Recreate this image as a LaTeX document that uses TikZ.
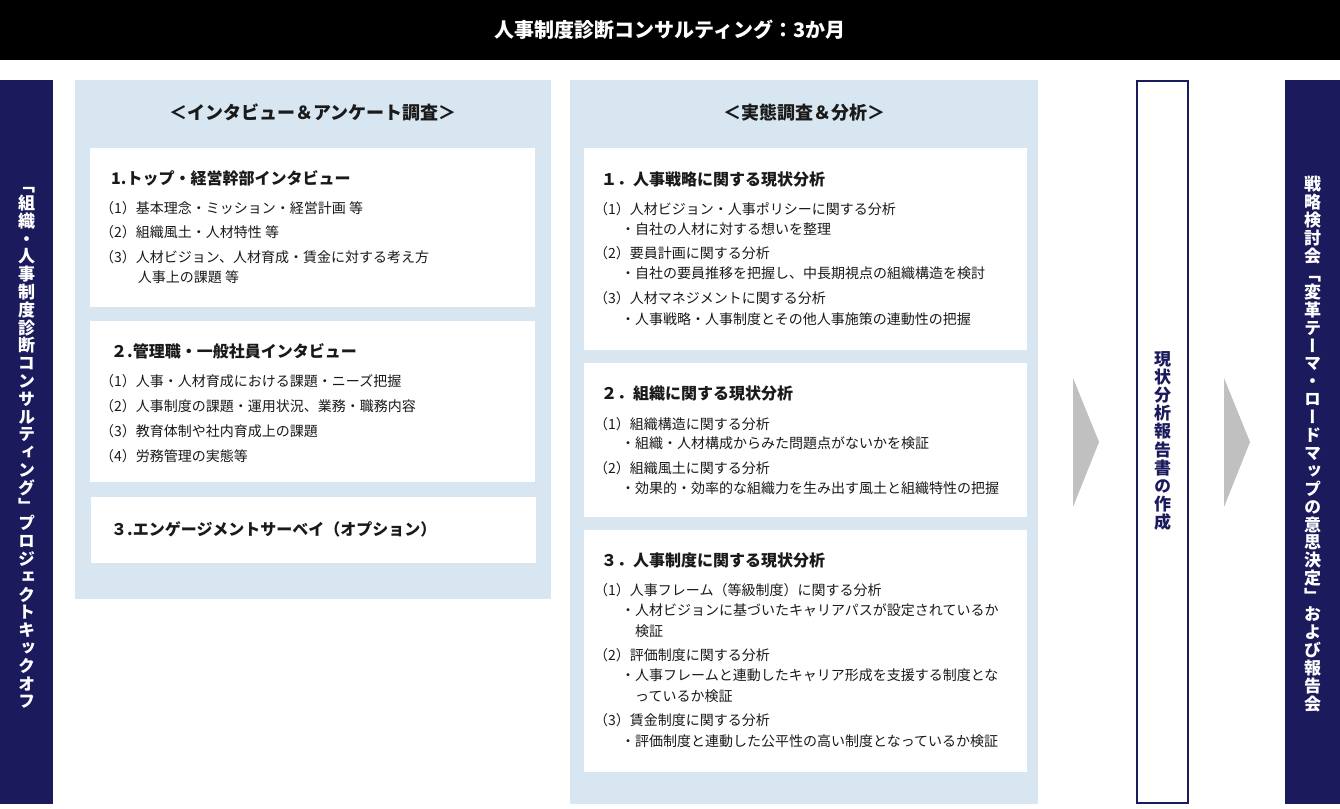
\documentclass[tikz,border=0pt]{standalone}
\usepackage{fontspec}
\setmainfont{Noto Sans CJK JP}
\newfontfamily\jpv[RawFeature={+vert}]{Noto Sans CJK JP}
\definecolor{navy}{RGB}{27,26,92}
\definecolor{lightblue}{RGB}{215,230,241}
\definecolor{arrowgray}{RGB}{192,192,192}
\definecolor{ink}{RGB}{26,26,26}
\makeatletter
\newcommand\vstack[2]{\vbox{\baselineskip=#1\lineskip=0pt\lineskiplimit=-100pt\vst@ck#2\relax}}
\def\vst@ck#1{\ifx\relax#1\else\hbox to 1em{\hss#1\hss}\expandafter\vst@ck\fi}
\makeatother
\begin{document}
\begin{tikzpicture}[x=1pt,y=-1pt,
  hd/.style={anchor=base west,inner sep=0pt,font=\fontsize{16}{18}\selectfont\bfseries,text=ink},
  it/.style={anchor=base west,inner sep=0pt,font=\fontsize{14}{16}\selectfont,text=ink},
  ph/.style={inner sep=0pt,font=\fontsize{18}{20}\selectfont\bfseries,text=ink},
  vt/.style={inner sep=0pt,font=\jpv\fontsize{17}{18}\selectfont\bfseries},
]
\useasboundingbox (0,0) rectangle (1340,808);
\fill[white] (0,0) rectangle (1340,808);
% title bar
\fill[black] (0,0) rectangle (1340,60);
\node[inner sep=0pt,font=\fontsize{20}{22}\selectfont\bfseries,text=white] (title) at (670,30) {人事制度診断コンサルティング：3か月};
% left navy bar
\fill[navy] (0,80) rectangle (53,804);
\node[vt,text=white] (kick) at (26.5,448) {\vstack{17.8pt}{「組織・人事制度診断コンサルティング」プロジェクトキックオフ}};
% left panel
\fill[lightblue] (75,80) rectangle (551,599);
\node[ph] (lhead) at (313,113) {＜インタビュー＆アンケート調査＞};
\fill[white] (90,148) rectangle (535,307);
\fill[white] (90,321) rectangle (535,482);
\fill[white] (91,497) rectangle (536,563);
\node[hd] (l1h) at (111,184.1) {1.トップ・経営幹部インタビュー};
\node[it] (l1a) at (100,213.3) {（1）基本理念・ミッション・経営計画 等};
\node[it] (l1b) at (100,237.3) {（2）組織風土・人材特性 等};
\node[it] (l1c) at (100,262.3) {（3）人材ビジョン、人材育成・賃金に対する考え方};
\node[it] (l1d) at (102,282.3) {\phantom{（3）}人事上の課題 等};
\node[hd] (l2h) at (111,357.1) {２.管理職・一般社員インタビュー};
\node[it] (l2a) at (100,386.3) {（1）人事・人材育成における課題・ニーズ把握};
\node[it] (l2b) at (100,411.3) {（2）人事制度の課題・運用状況、業務・職務内容};
\node[it] (l2c) at (100,436.3) {（3）教育体制や社内育成上の課題};
\node[it] (l2d) at (100,461.3) {（4）労務管理の実態等};
\node[hd] (l3h) at (111,535.1) {３.エンゲージメントサーベイ（オプション）};
% middle panel
\fill[lightblue] (570,80) rectangle (1038,804);
\node[ph] (mhead) at (804,113) {＜実態調査＆分析＞};
\fill[white] (584,148) rectangle (1027,350);
\fill[white] (584,363) rectangle (1027,517);
\fill[white] (584,530) rectangle (1027,772);
\node[hd] (a0) at (601,185.1) {１．人事戦略に関する現状分析};
\node[it] (a1) at (594,214.3) {（1）人材ビジョン・人事ポリシーに関する分析};
\node[it] (a2) at (621,234.3) {・自社の人材に対する想いを整理};
\node[it] (a3) at (594,258.3) {（2）要員計画に関する分析};
\node[it] (a4) at (621,278.3) {・自社の要員推移を把握し、中長期視点の組織構造を検討};
\node[it] (a5) at (594,303.3) {（3）人材マネジメントに関する分析};
\node[it] (a6) at (621,324.3) {・人事戦略・人事制度とその他人事施策の連動性の把握};
\node[hd] (b0) at (601,399.1) {２．組織に関する現状分析};
\node[it] (b1) at (594,429.3) {（1）組織構造に関する分析};
\node[it] (b2) at (621,448.3) {・組織・人材構成からみた問題点がないかを検証};
\node[it] (b3) at (594,473.3) {（2）組織風土に関する分析};
\node[it] (b4) at (621,493.3) {・効果的・効率的な組織力を生み出す風土と組織特性の把握};
\node[hd] (c0) at (601,566.1) {３．人事制度に関する現状分析};
\node[it] (c1) at (594,595.3) {（1）人事フレーム（等級制度）に関する分析};
\node[it] (c2) at (621,615.3) {・人材ビジョンに基づいたキャリアパスが設定されているか};
\node[it] (c3) at (635,636.3) {検証};
\node[it] (c4) at (594,660.3) {（2）評価制度に関する分析};
\node[it] (c5) at (621,680.3) {・人事フレームと連動したキャリア形成を支援する制度とな};
\node[it] (c6) at (635,701.3) {っているか検証};
\node[it] (c7) at (594,725.3) {（3）賃金制度に関する分析};
\node[it] (c8) at (621,746.3) {・評価制度と連動した公平性の高い制度となっているか検証};
% arrows
\fill[arrowgray] (1073,378) -- (1099,442) -- (1073,507) -- cycle;
\fill[arrowgray] (1224,378) -- (1250,442) -- (1224,507) -- cycle;
% report box
\draw[navy,line width=2pt,fill=white] (1137,81) rectangle (1188,803);
\node[vt,text=navy] (report) at (1162.5,441) {\vstack{18.2pt}{現状分析報告書の作成}};
% right navy bar
\fill[navy] (1285,80) rectangle (1340,804);
\node[vt,text=white] (final) at (1312.5,444) {\vstack{17.9pt}{戦略検討会「変革テーマ・ロードマップの意思決定」および報告会}};
\end{tikzpicture}
\end{document}
